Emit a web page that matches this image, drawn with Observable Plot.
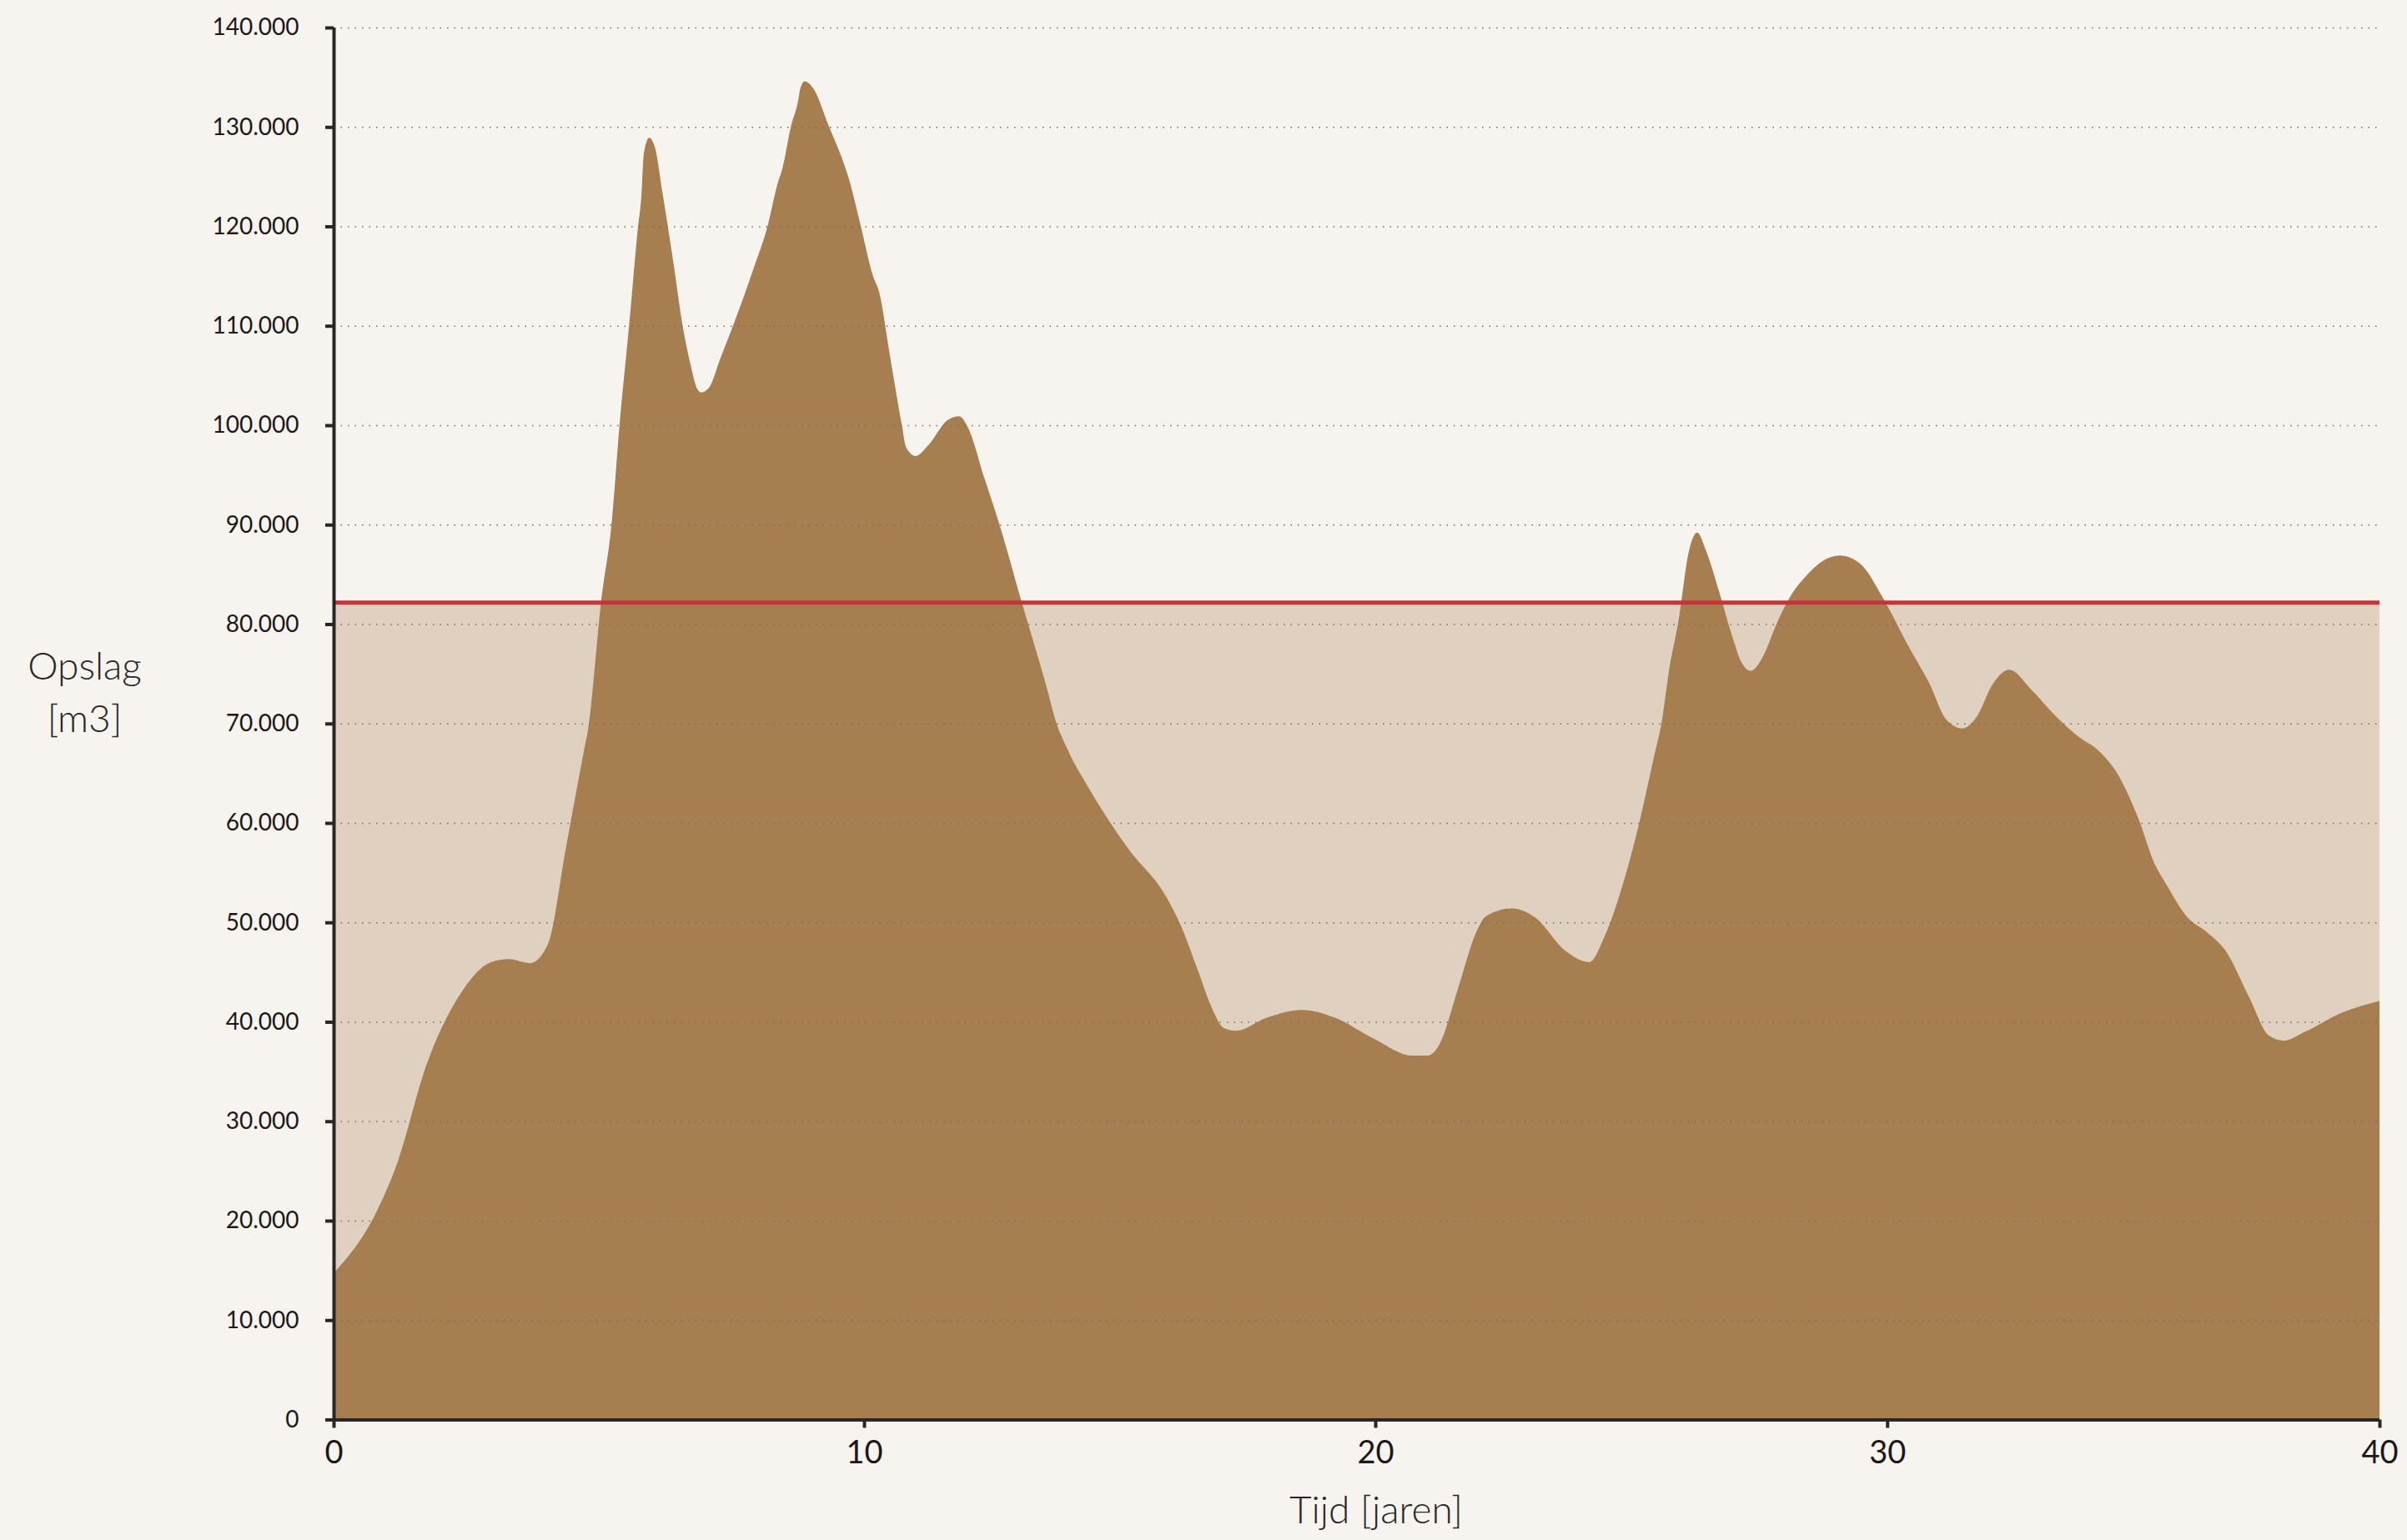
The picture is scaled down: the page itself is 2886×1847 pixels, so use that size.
<!DOCTYPE html>
<html>
<head>
<meta charset="utf-8">
<script src="https://cdn.jsdelivr.net/npm/d3@7"></script>
<script src="https://cdn.jsdelivr.net/npm/@observablehq/plot@0.6"></script>
<style>
  html, body { margin: 0; padding: 0; background: #f7f4ef; }
  #chart svg { display: block; }
</style>
</head>
<body>
<div id="chart"></div>
<script>
// ---- data ----
const jaren = [0, 0.8, 1.18, 1.76, 2.39, 2.97, 3.3, 3.7, 4.04, 4.38, 4.72, 4.8, 5.04, 5.25, 5.39, 5.57, 5.74, 5.8, 5.85, 5.95, 6.06, 6.2, 6.41, 6.58, 6.72, 6.86, 6.93, 7.08, 7.29, 7.53, 7.92, 8.18, 8.37, 8.46, 8.62, 8.76, 8.8, 8.88, 9.04, 9.32, 9.74, 9.94, 10.17, 10.3, 10.5, 10.74, 10.82, 11.01, 11.26, 11.63, 11.86, 12.03, 12.36, 12.65, 13.09, 13.6, 13.74, 13.99, 14.42, 15.17, 15.92, 16.22, 16.52, 16.82, 17.03, 17.27, 17.87, 18.56, 19.22, 19.97, 20.72, 21.02, 21.26, 21.62, 21.98, 22.16, 22.67, 23.12, 23.72, 24.18, 24.48, 24.84, 25.09, 25.46, 25.59, 25.75, 25.92, 26.13, 26.29, 26.46, 26.71, 26.96, 27.15, 27.33, 27.58, 27.83, 28.16, 28.41, 28.83, 29.08, 29.49, 29.91, 30.43, 30.86, 31.2, 31.53, 31.81, 32.15, 32.48, 32.93, 33.45, 33.88, 34.31, 34.66, 35.09, 35.44, 35.66, 36.1, 36.5, 36.88, 37.35, 37.76, 38.07, 38.45, 39.23, 40];
const opslag = [14700, 20800, 25500, 35800, 42800, 46000, 46300, 45900, 47800, 57500, 67300, 69500, 82100, 90600, 100000, 110000, 120000, 122900, 127400, 128900, 127900, 123400, 116200, 110000, 106300, 103600, 103300, 103800, 106700, 110000, 115800, 120000, 124300, 125800, 130000, 132700, 133900, 134600, 133900, 130300, 124300, 120000, 115100, 113300, 107200, 100000, 97800, 96900, 98000, 100500, 100900, 99800, 94600, 90000, 82100, 73100, 70400, 67300, 63300, 57400, 52500, 49400, 45300, 41200, 39400, 39100, 40400, 41200, 40400, 38300, 36600, 36600, 37800, 43400, 49100, 50600, 51400, 50500, 47100, 46000, 48600, 53900, 58600, 67000, 70000, 75700, 80200, 87400, 89200, 87400, 83400, 79000, 76200, 75300, 76800, 79900, 83200, 84800, 86600, 86900, 86000, 82700, 77800, 74000, 70400, 69500, 70600, 74000, 75400, 73400, 70600, 68700, 67200, 65100, 60600, 55800, 53900, 50500, 49000, 47100, 42500, 38600, 38100, 38900, 40900, 42100];
const capaciteit = 82200;
const xTicks = [0, 10, 20, 30, 40];
const yTicks = [0, 10000, 20000, 30000, 40000, 50000, 60000, 70000, 80000, 90000, 100000, 110000, 120000, 130000, 140000];
const yLabel = "Opslag\n[m3]";
const xLabel = "Tijd [jaren]";

// ---- build ----
const rows = jaren.map((t, i) => ({t, v: opslag[i]}));
const capRows = [{t: xTicks[0], v: capaciteit}, {t: xTicks[xTicks.length - 1], v: capaciteit}];
const nl = d3.formatLocale({decimal: ",", thousands: ".", grouping: [3], currency: ["€", ""]});
const fmt = nl.format(",.0f");

const W = 2886, H = 1847;
const ink = "#1c1818";

const chart = Plot.plot({
  width: W,
  height: H,
  marginTop: 33,
  marginBottom: 144.5,
  marginLeft: 400,
  marginRight: 33,
  style: {background: "#f7f4ef", fontFamily: "Lato, 'Noto Sans', sans-serif", color: ink},
  x: {type: "linear", domain: xTicks, range: [400, 1036, 1649, 2262.7, 2853], label: null},
  y: {type: "linear", domain: [0, 140000], label: null},
  marks: [
    Plot.areaY(capRows, {x: "t", y: "v", fill: "#dfd0bf"}),
    Plot.areaY(rows, {x: "t", y: "v", fill: "#a67e50", curve: "monotone-x"}),
    Plot.ruleY(yTicks.filter(d => d > 0), {stroke: "#6f6b66", strokeWidth: 1.5, strokeDasharray: "1.5,7"}),
    Plot.ruleY([capaciteit], {x1: xTicks[0], x2: xTicks[xTicks.length - 1], stroke: "#c5333b", strokeWidth: 5}),
    Plot.axisY({ticks: yTicks, tickFormat: fmt, tickSize: 10, tickPadding: 32, fontSize: 28, stroke: "#2b2626", strokeWidth: 4, fill: ink, label: null}),
    Plot.axisX({ticks: xTicks, tickFormat: d => String(d), tickSize: 10, tickPadding: 15, fontSize: 38, stroke: "#2b2626", strokeWidth: 4, fill: ink, label: null}),
    Plot.ruleX([0], {stroke: "#2b2626", strokeWidth: 4}),
    Plot.ruleY([0], {stroke: "#2b2626", strokeWidth: 4}),
    Plot.text([yLabel], {frameAnchor: "left", dx: -299, dy: -42, text: d => d, fontSize: 46, fontWeight: 300, lineHeight: 1.37, fill: "#2a2525", textAnchor: "middle"}),
    Plot.text([xLabel], {frameAnchor: "bottom", dx: 23, dy: 124, text: d => d, fontSize: 46, fontWeight: 300, fill: "#2a2525", textAnchor: "middle"})
  ]
});
document.getElementById("chart").appendChild(chart);
</script>
</body>
</html>
